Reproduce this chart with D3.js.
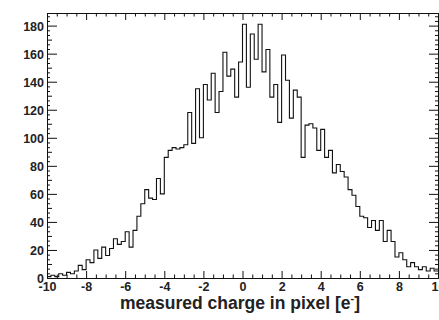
<!DOCTYPE html>
<html>
<head>
<meta charset="utf-8">
<script src="https://cdn.jsdelivr.net/npm/d3@7"></script>
<style>
body { margin: 0; background: #fff; }
text { font-family: "Liberation Sans", Arial, Helvetica, sans-serif; font-weight: bold; fill: #222; }
</style>
</head>
<body>
<div id="chart"></div>
<script>
// bin contents, 100 bins of 0.2 e- from -10 to 10
var counts = [
   1,  2,  1,  3,  2,  4,  3,  5,  9,  6,
  13, 11, 20, 14, 22, 16, 21, 28, 24, 26,
  33, 22, 34, 44, 53, 63, 57, 56, 71, 60,
  86, 91, 93, 92, 93, 95,118, 96,135,100,
 138,127,146,118,133,161,144,149,129,154,
 181,136,174,156,181,147,163,129,138,111,
 159,141,114,134,129, 86,109,110,107, 91,
 106, 86, 91, 75, 81, 76, 72, 63, 59, 51,
  44, 43, 36, 41, 34, 41, 26, 34, 26, 15,
  18, 13,  8, 11,  8,  6,  8,  5,  7,  5
];
var binStart = -10, binWidth = 0.2;

var xTicks = [-10, -8, -6, -4, -2, 0, 2, 4, 6, 8, 10];
var yTicks = [0, 20, 40, 60, 80, 100, 120, 140, 160, 180];
var xLabel = "measured charge in pixel [e";

var width = 439, height = 320;

var x = d3.scaleLinear().domain([-10, 10]).range([47, 438]);
var y = d3.scaleLinear().domain([0, 189]).range([278, 13]);

var svg = d3.select("#chart").append("svg")
    .attr("width", width)
    .attr("height", height);

// minor tick positions
var xMinor = d3.range(-10, 10.001, 0.5).filter(function(d) { return Math.abs(d % 2) > 1e-6; });
var yMinor = d3.range(0, 189, 20 / 6).filter(function(d) { return Math.abs(d % 20) > 1e-6 && Math.abs(d % 20 - 20) > 1e-6; });

function tickGroup(axis) {
  var g = svg.append("g").call(axis);
  g.select(".domain").remove();
  g.selectAll("line").attr("stroke", "#111");
  return g;
}

// bottom
tickGroup(d3.axisBottom(x).tickValues(xTicks).tickSize(-7).tickFormat(function(d) { return String(d); }))
    .attr("transform", "translate(0,278)")
  .selectAll("text").attr("font-size", 12.5).attr("fill", "#222").attr("dy", 0).attr("y", 12.5);
tickGroup(d3.axisBottom(x).tickValues(xMinor).tickSize(-3.5).tickFormat(""))
    .attr("transform", "translate(0,278)");
// top
tickGroup(d3.axisTop(x).tickValues(xTicks).tickSize(-7).tickFormat(""))
    .attr("transform", "translate(0,13)");
tickGroup(d3.axisTop(x).tickValues(xMinor).tickSize(-3.5).tickFormat(""))
    .attr("transform", "translate(0,13)");

// left
tickGroup(d3.axisLeft(y).tickValues(yTicks).tickSize(-10).tickFormat(function(d) { return String(d); }))
    .attr("transform", "translate(47,0)")
  .selectAll("text").attr("font-size", 12.5).attr("fill", "#222").attr("x", -3).attr("dy", "0.36em");
tickGroup(d3.axisLeft(y).tickValues(yMinor).tickSize(-3).tickFormat(""))
    .attr("transform", "translate(47,0)")
  .selectAll("line").attr("x2", function(d) { return Math.abs(d % 10) < 1e-6 || Math.abs(d % 10 - 10) < 1e-6 ? 5 : 3; });
// right
tickGroup(d3.axisRight(y).tickValues(yTicks).tickSize(-9).tickFormat(""))
    .attr("transform", "translate(438,0)");
tickGroup(d3.axisRight(y).tickValues(yMinor).tickSize(-3).tickFormat(""))
    .attr("transform", "translate(438,0)");

// frame
svg.append("rect")
    .attr("x", x(-10) + 0.5).attr("y", y(189) + 0.5)
    .attr("width", x(10) - x(-10)).attr("height", y(0) - y(189))
    .attr("fill", "none").attr("stroke", "#111").attr("stroke-width", 1);

// histogram
var pts = counts.map(function(c, i) { return [binStart + i * binWidth, c]; });
pts.push([binStart + counts.length * binWidth, counts[counts.length - 1]]);

var line = d3.line()
    .curve(d3.curveStepAfter)
    .x(function(d) { return x(d[0]); })
    .y(function(d) { return y(d[1]); });

svg.append("path")
    .datum(pts)
    .attr("d", line)
    .attr("fill", "none")
    .attr("stroke", "#111")
    .attr("stroke-width", 1.1);

// axis title
var title = svg.append("text")
    .attr("x", 240).attr("y", 309)
    .attr("text-anchor", "middle")
    .attr("font-size", 17.5)
    .attr("fill", "#111");
title.append("tspan").text(xLabel);
title.append("tspan").attr("font-size", 11).attr("dy", -7).text("-");
title.append("tspan").attr("dy", 7).text("]");
</script>
</body>
</html>
